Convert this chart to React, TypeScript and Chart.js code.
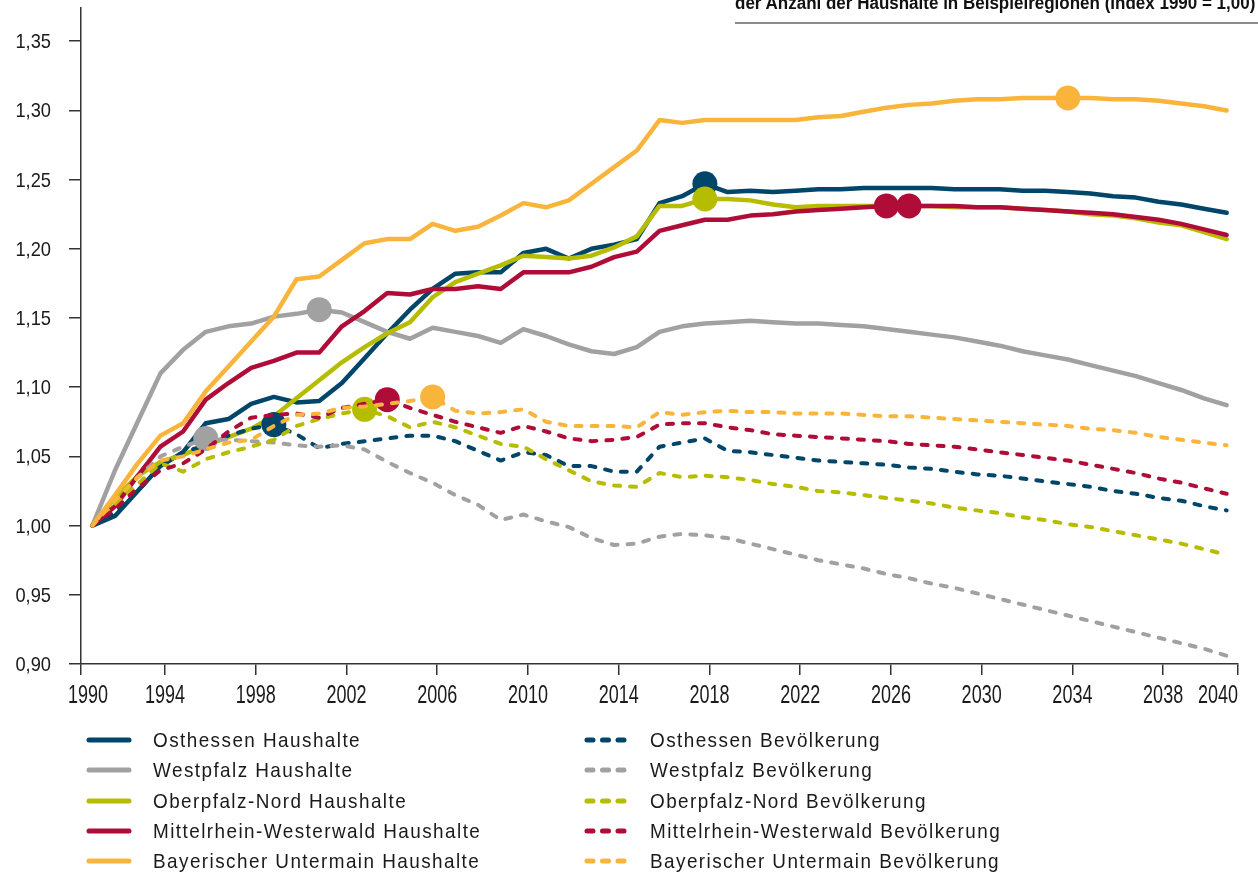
import React, { useEffect, useRef } from "react";
import { Chart, registerables } from "chart.js";

Chart.register(...registerables);

const FONT = "'Liberation Sans', Arial, sans-serif";

const years: number[] = Array.from({ length: 51 }, (_, i) => 1990 + i);

const titleText = "der Anzahl der Haushalte in Beispielregionen (Index 1990 = 1,00)";

const xTickLabels = ["1990", "1994", "1998", "2002", "2006", "2010", "2014", "2018", "2022", "2026", "2030", "2034", "2038", "2040"];
const yTickValues = [0.9, 0.95, 1.0, 1.05, 1.1, 1.15, 1.2, 1.25, 1.3, 1.35];

const osthessenHH = [1.000, 1.007, 1.025, 1.043, 1.053, 1.074, 1.077, 1.088, 1.093, 1.089, 1.090, 1.103, 1.121, 1.139, 1.156, 1.171, 1.182, 1.183, 1.183, 1.197, 1.200, 1.193, 1.200, 1.203, 1.207, 1.233, 1.238, 1.247, 1.241, 1.242, 1.241, 1.242, 1.243, 1.243, 1.244, 1.244, 1.244, 1.244, 1.243, 1.243, 1.243, 1.242, 1.242, 1.241, 1.240, 1.238, 1.237, 1.234, 1.232, 1.229, 1.226];
const westpfalzHH = [1.000, 1.040, 1.075, 1.110, 1.127, 1.140, 1.144, 1.146, 1.151, 1.153, 1.156, 1.154, 1.147, 1.140, 1.135, 1.143, 1.140, 1.137, 1.132, 1.142, 1.137, 1.131, 1.126, 1.124, 1.129, 1.140, 1.144, 1.146, 1.147, 1.148, 1.147, 1.146, 1.146, 1.145, 1.144, 1.142, 1.140, 1.138, 1.136, 1.133, 1.130, 1.126, 1.123, 1.120, 1.116, 1.112, 1.108, 1.103, 1.098, 1.092, 1.087];
const oberpfalzHH = [1.000, 1.020, 1.036, 1.046, 1.051, 1.058, 1.064, 1.070, 1.079, 1.092, 1.105, 1.118, 1.129, 1.139, 1.147, 1.165, 1.176, 1.182, 1.188, 1.195, 1.194, 1.193, 1.195, 1.201, 1.209, 1.231, 1.231, 1.236, 1.236, 1.235, 1.232, 1.230, 1.231, 1.231, 1.231, 1.231, 1.231, 1.231, 1.230, 1.230, 1.230, 1.229, 1.228, 1.227, 1.225, 1.224, 1.222, 1.219, 1.217, 1.212, 1.207];
const mittelrheinHH = [1.000, 1.014, 1.036, 1.057, 1.068, 1.091, 1.103, 1.114, 1.119, 1.125, 1.125, 1.144, 1.155, 1.168, 1.167, 1.171, 1.171, 1.173, 1.171, 1.183, 1.183, 1.183, 1.187, 1.194, 1.198, 1.213, 1.217, 1.221, 1.221, 1.224, 1.225, 1.227, 1.228, 1.229, 1.230, 1.231, 1.231, 1.231, 1.231, 1.230, 1.230, 1.229, 1.228, 1.227, 1.226, 1.225, 1.223, 1.221, 1.218, 1.214, 1.210];
const untermainHH = [1.000, 1.022, 1.045, 1.065, 1.074, 1.097, 1.115, 1.133, 1.151, 1.178, 1.180, 1.192, 1.204, 1.207, 1.207, 1.218, 1.213, 1.216, 1.224, 1.233, 1.230, 1.235, 1.247, 1.259, 1.271, 1.293, 1.291, 1.293, 1.293, 1.293, 1.293, 1.293, 1.295, 1.296, 1.299, 1.302, 1.304, 1.305, 1.307, 1.308, 1.308, 1.309, 1.309, 1.309, 1.309, 1.308, 1.308, 1.307, 1.305, 1.303, 1.300];

const osthessenBev = [1.000, 1.010, 1.025, 1.043, 1.053, 1.058, 1.065, 1.070, 1.073, 1.066, 1.056, 1.059, 1.061, 1.063, 1.065, 1.065, 1.061, 1.054, 1.047, 1.053, 1.051, 1.043, 1.043, 1.039, 1.039, 1.057, 1.060, 1.063, 1.054, 1.053, 1.051, 1.049, 1.047, 1.046, 1.045, 1.044, 1.042, 1.041, 1.039, 1.037, 1.036, 1.034, 1.032, 1.030, 1.028, 1.025, 1.023, 1.020, 1.018, 1.014, 1.011];
const westpfalzBev = [1.000, 1.017, 1.035, 1.050, 1.057, 1.063, 1.062, 1.061, 1.060, 1.058, 1.057, 1.058, 1.055, 1.046, 1.038, 1.031, 1.022, 1.015, 1.004, 1.008, 1.003, 0.999, 0.991, 0.986, 0.987, 0.992, 0.994, 0.993, 0.991, 0.987, 0.983, 0.979, 0.975, 0.972, 0.969, 0.965, 0.962, 0.958, 0.955, 0.951, 0.947, 0.943, 0.939, 0.935, 0.931, 0.927, 0.923, 0.919, 0.915, 0.911, 0.906];
const oberpfalzBev = [1.000, 1.015, 1.030, 1.045, 1.039, 1.048, 1.053, 1.057, 1.062, 1.072, 1.077, 1.081, 1.084, 1.079, 1.071, 1.075, 1.071, 1.065, 1.059, 1.057, 1.048, 1.040, 1.032, 1.029, 1.028, 1.038, 1.035, 1.036, 1.035, 1.033, 1.030, 1.028, 1.025, 1.024, 1.022, 1.020, 1.018, 1.016, 1.013, 1.011, 1.009, 1.006, 1.004, 1.001, 0.999, 0.996, 0.993, 0.990, 0.987, 0.983, 0.979];
const mittelrheinBev = [1.000, 1.012, 1.027, 1.040, 1.045, 1.055, 1.068, 1.078, 1.080, 1.081, 1.078, 1.085, 1.088, 1.091, 1.085, 1.080, 1.075, 1.071, 1.067, 1.072, 1.068, 1.063, 1.061, 1.062, 1.064, 1.073, 1.074, 1.074, 1.071, 1.069, 1.066, 1.065, 1.064, 1.063, 1.062, 1.061, 1.059, 1.058, 1.057, 1.055, 1.053, 1.051, 1.049, 1.047, 1.044, 1.041, 1.038, 1.034, 1.031, 1.027, 1.023];
const untermainBev = [1.000, 1.018, 1.035, 1.047, 1.050, 1.055, 1.060, 1.062, 1.072, 1.080, 1.081, 1.085, 1.086, 1.088, 1.090, 1.093, 1.083, 1.081, 1.082, 1.084, 1.075, 1.072, 1.072, 1.072, 1.071, 1.082, 1.080, 1.082, 1.083, 1.082, 1.082, 1.081, 1.081, 1.081, 1.080, 1.079, 1.079, 1.078, 1.077, 1.076, 1.075, 1.074, 1.073, 1.072, 1.070, 1.069, 1.067, 1.064, 1.062, 1.060, 1.058];

// years carrying a highlighted marker on each line
const osthessenHHMarks = [2017];
const westpfalzHHMarks = [2000];
const oberpfalzHHMarks = [2017];
const mittelrheinHHMarks = [2025, 2026];
const untermainHHMarks = [2033];
const osthessenBevMarks = [1998];
const westpfalzBevMarks = [1995];
const oberpfalzBevMarks = [2002];
const mittelrheinBevMarks = [2003];
const untermainBevMarks = [2005];

const C_BLUE = "#00456A";
const C_GRAY = "#A1A1A1";
const C_GREEN = "#B6BD00";
const C_RED = "#B00C38";
const C_ORANGE = "#F9B43C";

const series = [
  { label: "Osthessen Haushalte", data: osthessenHH, color: C_BLUE, dashed: false, marks: osthessenHHMarks },
  { label: "Westpfalz Haushalte", data: westpfalzHH, color: C_GRAY, dashed: false, marks: westpfalzHHMarks },
  { label: "Oberpfalz-Nord Haushalte", data: oberpfalzHH, color: C_GREEN, dashed: false, marks: oberpfalzHHMarks },
  { label: "Mittelrhein-Westerwald Haushalte", data: mittelrheinHH, color: C_RED, dashed: false, marks: mittelrheinHHMarks },
  { label: "Bayerischer Untermain Haushalte", data: untermainHH, color: C_ORANGE, dashed: false, marks: untermainHHMarks },
  { label: "Osthessen Bevölkerung", data: osthessenBev, color: C_BLUE, dashed: true, marks: osthessenBevMarks },
  { label: "Westpfalz Bevölkerung", data: westpfalzBev, color: C_GRAY, dashed: true, marks: westpfalzBevMarks },
  { label: "Oberpfalz-Nord Bevölkerung", data: oberpfalzBev, color: C_GREEN, dashed: true, marks: oberpfalzBevMarks },
  { label: "Mittelrhein-Westerwald Bevölkerung", data: mittelrheinBev, color: C_RED, dashed: true, marks: mittelrheinBevMarks },
  { label: "Bayerischer Untermain Bevölkerung", data: untermainBev, color: C_ORANGE, dashed: true, marks: untermainBevMarks },
];

const W = 1258;
const H = 873;
const X_MIN = 1989.5;
const X_MAX = 2040.5;
const AXIS_BOTTOM = 664;

function drawCondensed(ctx: any, text: string, x: number, y: number, sx: number, align: string) {
  ctx.save();
  ctx.translate(x, y);
  ctx.scale(sx, 1);
  ctx.textAlign = align;
  ctx.fillText(text, 0, 0);
  ctx.restore();
}

const axisLabelPlugin = {
  id: "axisLabels",
  afterDraw(chart: any) {
    const ctx = chart.ctx;
    const sx = chart.scales.x;
    const sy = chart.scales.y;
    ctx.save();
    ctx.fillStyle = "#1a1a1a";
    ctx.textBaseline = "alphabetic";
    ctx.font = `25px ${FONT}`;
    const n = sx.ticks.length;
    sx.ticks.forEach((t: any, i: number) => {
      const px = sx.getPixelForValue(t.value);
      if (i === 0) drawCondensed(ctx, xTickLabels[i], px + 7, sx.top + 39, 0.72, "center");
      else if (i === n - 1) drawCondensed(ctx, xTickLabels[i], px, sx.top + 39, 0.72, "right");
      else drawCondensed(ctx, xTickLabels[i], px, sx.top + 39, 0.72, "center");
    });
    ctx.font = `21px ${FONT}`;
    yTickValues.forEach((v) => {
      const py = sy.getPixelForValue(v);
      drawCondensed(ctx, v.toFixed(2).replace(".", ","), 51, py + 7, 0.87, "right");
    });
    ctx.restore();
  },
};

function measureWidth(text: string, font: string): number {
  const c = document.createElement("canvas").getContext("2d");
  if (!c) return text.length * 9;
  c.font = font;
  return c.measureText(text).width;
}

function LegendSample({ color, dashed }: { color: string; dashed: boolean }) {
  if (dashed) {
    return (
      <svg width="48" height="10" style={{ display: "block", flex: "none" }}>
        <line x1="6" y1="5" x2="44" y2="5" stroke={color} strokeWidth="5" strokeLinecap="round" strokeDasharray="6 9.5" />
      </svg>
    );
  }
  return (
    <svg width="48" height="10" style={{ display: "block", flex: "none" }}>
      <line x1="5" y1="5" x2="45" y2="5" stroke={color} strokeWidth="5" strokeLinecap="round" />
    </svg>
  );
}

const legendTextStyle: any = {
  fontFamily: FONT,
  fontSize: 21,
  color: "#1a1a1a",
  letterSpacing: "1.6px",
  whiteSpace: "nowrap",
  display: "inline-block",
  transform: "scaleX(0.9)",
  transformOrigin: "left center",
};

export default function App() {
  const canvasRef = useRef<HTMLCanvasElement | null>(null);

  useEffect(() => {
    const canvas = canvasRef.current;
    if (!canvas) return;
    const n = series.length;
    const datasets = series.map((s, i) => ({
      label: s.label,
      data: years.map((yr, k) => ({ x: yr, y: s.data[k] })),
      borderColor: s.color,
      backgroundColor: s.color,
      borderWidth: s.dashed ? 4 : 4.5,
      borderDash: s.dashed ? [6, 10] : [],
      borderCapStyle: "round",
      borderJoinStyle: "round",
      tension: 0,
      fill: false,
      order: n - i,
      pointRadius: years.map((yr) => (s.marks.includes(yr) ? 12.5 : 0)),
      pointBorderWidth: 0,
      pointBackgroundColor: s.color,
      pointHoverRadius: 0,
    }));

    const chart = new Chart(canvas, {
      type: "line",
      data: { datasets } as any,
      plugins: [axisLabelPlugin],
      options: {
        animation: false,
        responsive: false,
        events: [],
        layout: { padding: { top: 8, right: 20, bottom: 0, left: 0 } },
        plugins: { legend: { display: false }, tooltip: { enabled: false }, title: { display: false } },
        scales: {
          x: {
            type: "linear",
            min: X_MIN,
            max: X_MAX,
            afterBuildTicks: (scale: any) => {
              const last = xTickLabels.length - 1;
              scale.ticks = xTickLabels.map((lab, i) => ({
                value: i === 0 ? X_MIN : i === last ? X_MAX : Number(lab) - 0.8,
              }));
            },
            afterFit: (scale: any) => {
              scale.height = H - AXIS_BOTTOM;
              scale.paddingLeft = 0;
              scale.paddingRight = 0;
            },
            ticks: { display: false },
            grid: {
              drawOnChartArea: false,
              drawTicks: true,
              tickLength: 11,
              color: "#333333",
              lineWidth: 1.5,
            },
            border: { display: true, color: "#333333", width: 1.5 },
          },
          y: {
            type: "linear",
            min: 0.9,
            max: 1.374,
            afterBuildTicks: (scale: any) => {
              scale.ticks = yTickValues.map((v) => ({ value: v }));
            },
            afterFit: (scale: any) => {
              scale.width = 81;
              scale.paddingTop = 0;
              scale.paddingBottom = 0;
            },
            ticks: { display: false },
            grid: {
              drawOnChartArea: false,
              drawTicks: true,
              tickLength: 12,
              color: "#333333",
              lineWidth: 1.5,
            },
            border: { display: true, color: "#333333", width: 1.5 },
          },
        },
      } as any,
    });
    return () => chart.destroy();
  }, []);

  const titleFont = `bold 18px ${FONT}`;
  const titleScale = 521 / measureWidth(titleText, titleFont);

  const rowTops = [740, 770, 801, 831, 861];
  const left = series.slice(0, 5);
  const right = series.slice(5);

  return (
    <div style={{ position: "fixed", left: 0, top: 0, width: W, height: H, background: "#ffffff", overflow: "hidden" }}>
      <canvas ref={canvasRef} width={W} height={H} style={{ position: "absolute", left: 0, top: 0, width: W, height: H }} />
      <div
        style={{
          position: "absolute",
          left: 735,
          top: -6,
          fontFamily: FONT,
          fontWeight: "bold",
          fontSize: 18,
          lineHeight: "18px",
          color: "#111",
          whiteSpace: "nowrap",
          transform: `scaleX(${titleScale})`,
          transformOrigin: "left top",
        }}
      >
        {titleText}
      </div>
      <div style={{ position: "absolute", left: 735, top: 22, width: 523, height: 2, background: "#8c8c8c" }} />
      {left.map((s, i) => (
        <div key={s.label} style={{ position: "absolute", left: 84, top: rowTops[i] - 13, height: 26, display: "flex", alignItems: "center" }}>
          <LegendSample color={s.color} dashed={false} />
          <span style={{ ...legendTextStyle, marginLeft: 21 }}>{s.label}</span>
        </div>
      ))}
      {right.map((s, i) => (
        <div key={s.label} style={{ position: "absolute", left: 581, top: rowTops[i] - 13, height: 26, display: "flex", alignItems: "center" }}>
          <LegendSample color={s.color} dashed={true} />
          <span style={{ ...legendTextStyle, marginLeft: 21 }}>{s.label}</span>
        </div>
      ))}
    </div>
  );
}
